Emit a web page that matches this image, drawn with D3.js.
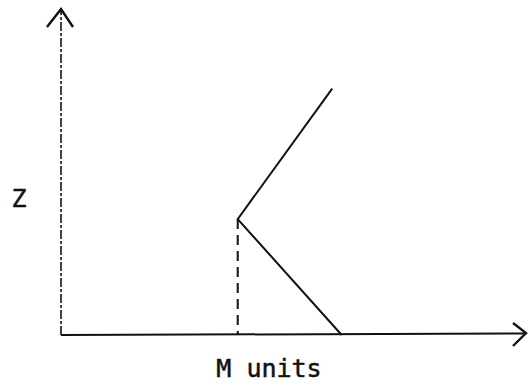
<!DOCTYPE html>
<html>
<head>
<meta charset="utf-8">
<script src="https://cdn.jsdelivr.net/npm/d3@7"></script>
<style>
  html, body { margin: 0; padding: 0; background: #fff; }
  svg { display: block; }
</style>
</head>
<body>
<svg id="chart" width="528" height="389"></svg>
<script>
// Curve of Z against M: rises from the bend point, and a falling branch to the M axis
const branchM = [6.0, 3.91, 6.21];
const branchZ = [7.95, 3.74, 0];
// Bend point projected down onto the M axis
const dropM = [3.91, 3.91];
const dropZ = [3.74, 0];

const axisLabelX = "M units";
const axisLabelY = "Z";

const svg = d3.select("#chart");
const origin = { x: 61, y: 335 };

const x = d3.scaleLinear().domain([0, 10]).range([origin.x, 513]);
const y = d3.scaleLinear().domain([0, 10]).range([origin.y, 25]);

const ink = "#111";

// y axis (faint broken stroke) with open arrowhead
svg.append("line")
  .attr("x1", x(0)).attr("y1", y(0))
  .attr("x2", x(0)).attr("y2", 10)
  .attr("stroke", ink).attr("stroke-width", 1.6)
  .attr("stroke-dasharray", "9,2,3,2");
svg.append("path")
  .attr("d", `M${x(0) - 14},27 L${x(0)},9 L${x(0) + 12},27`)
  .attr("fill", "none").attr("stroke", ink).attr("stroke-width", 2.4);

// x axis with open arrowhead
svg.append("line")
  .attr("x1", x(0)).attr("y1", y(0))
  .attr("x2", 526).attr("y2", y(0) - 1.5)
  .attr("stroke", ink).attr("stroke-width", 2);
svg.append("path")
  .attr("d", `M513,323 L526,333 L513,346`)
  .attr("fill", "none").attr("stroke", ink).attr("stroke-width", 2.4);

// dashed drop line
svg.append("path")
  .attr("d", d3.line()(dropM.map((m, i) => [x(m), y(dropZ[i])])))
  .attr("fill", "none").attr("stroke", ink).attr("stroke-width", 2)
  .attr("stroke-dasharray", "10,6");

// the bent curve
svg.append("path")
  .attr("d", d3.line()(branchM.map((m, i) => [x(m), y(branchZ[i])])))
  .attr("fill", "none").attr("stroke", ink).attr("stroke-width", 2)
  .attr("stroke-linejoin", "miter");

// labels
const labelStyle = sel => sel
  .attr("text-anchor", "middle")
  .attr("font-family", "DejaVu Sans Mono")
  .attr("font-size", 25)
  .attr("fill", ink)
  .attr("stroke", ink)
  .attr("stroke-width", 0.5);

svg.append("text")
  .attr("x", 19).attr("y", 207)
  .call(labelStyle)
  .text(axisLabelY);

svg.append("text")
  .attr("x", 269).attr("y", 377)
  .call(labelStyle)
  .text(axisLabelX);
</script>
</body>
</html>
